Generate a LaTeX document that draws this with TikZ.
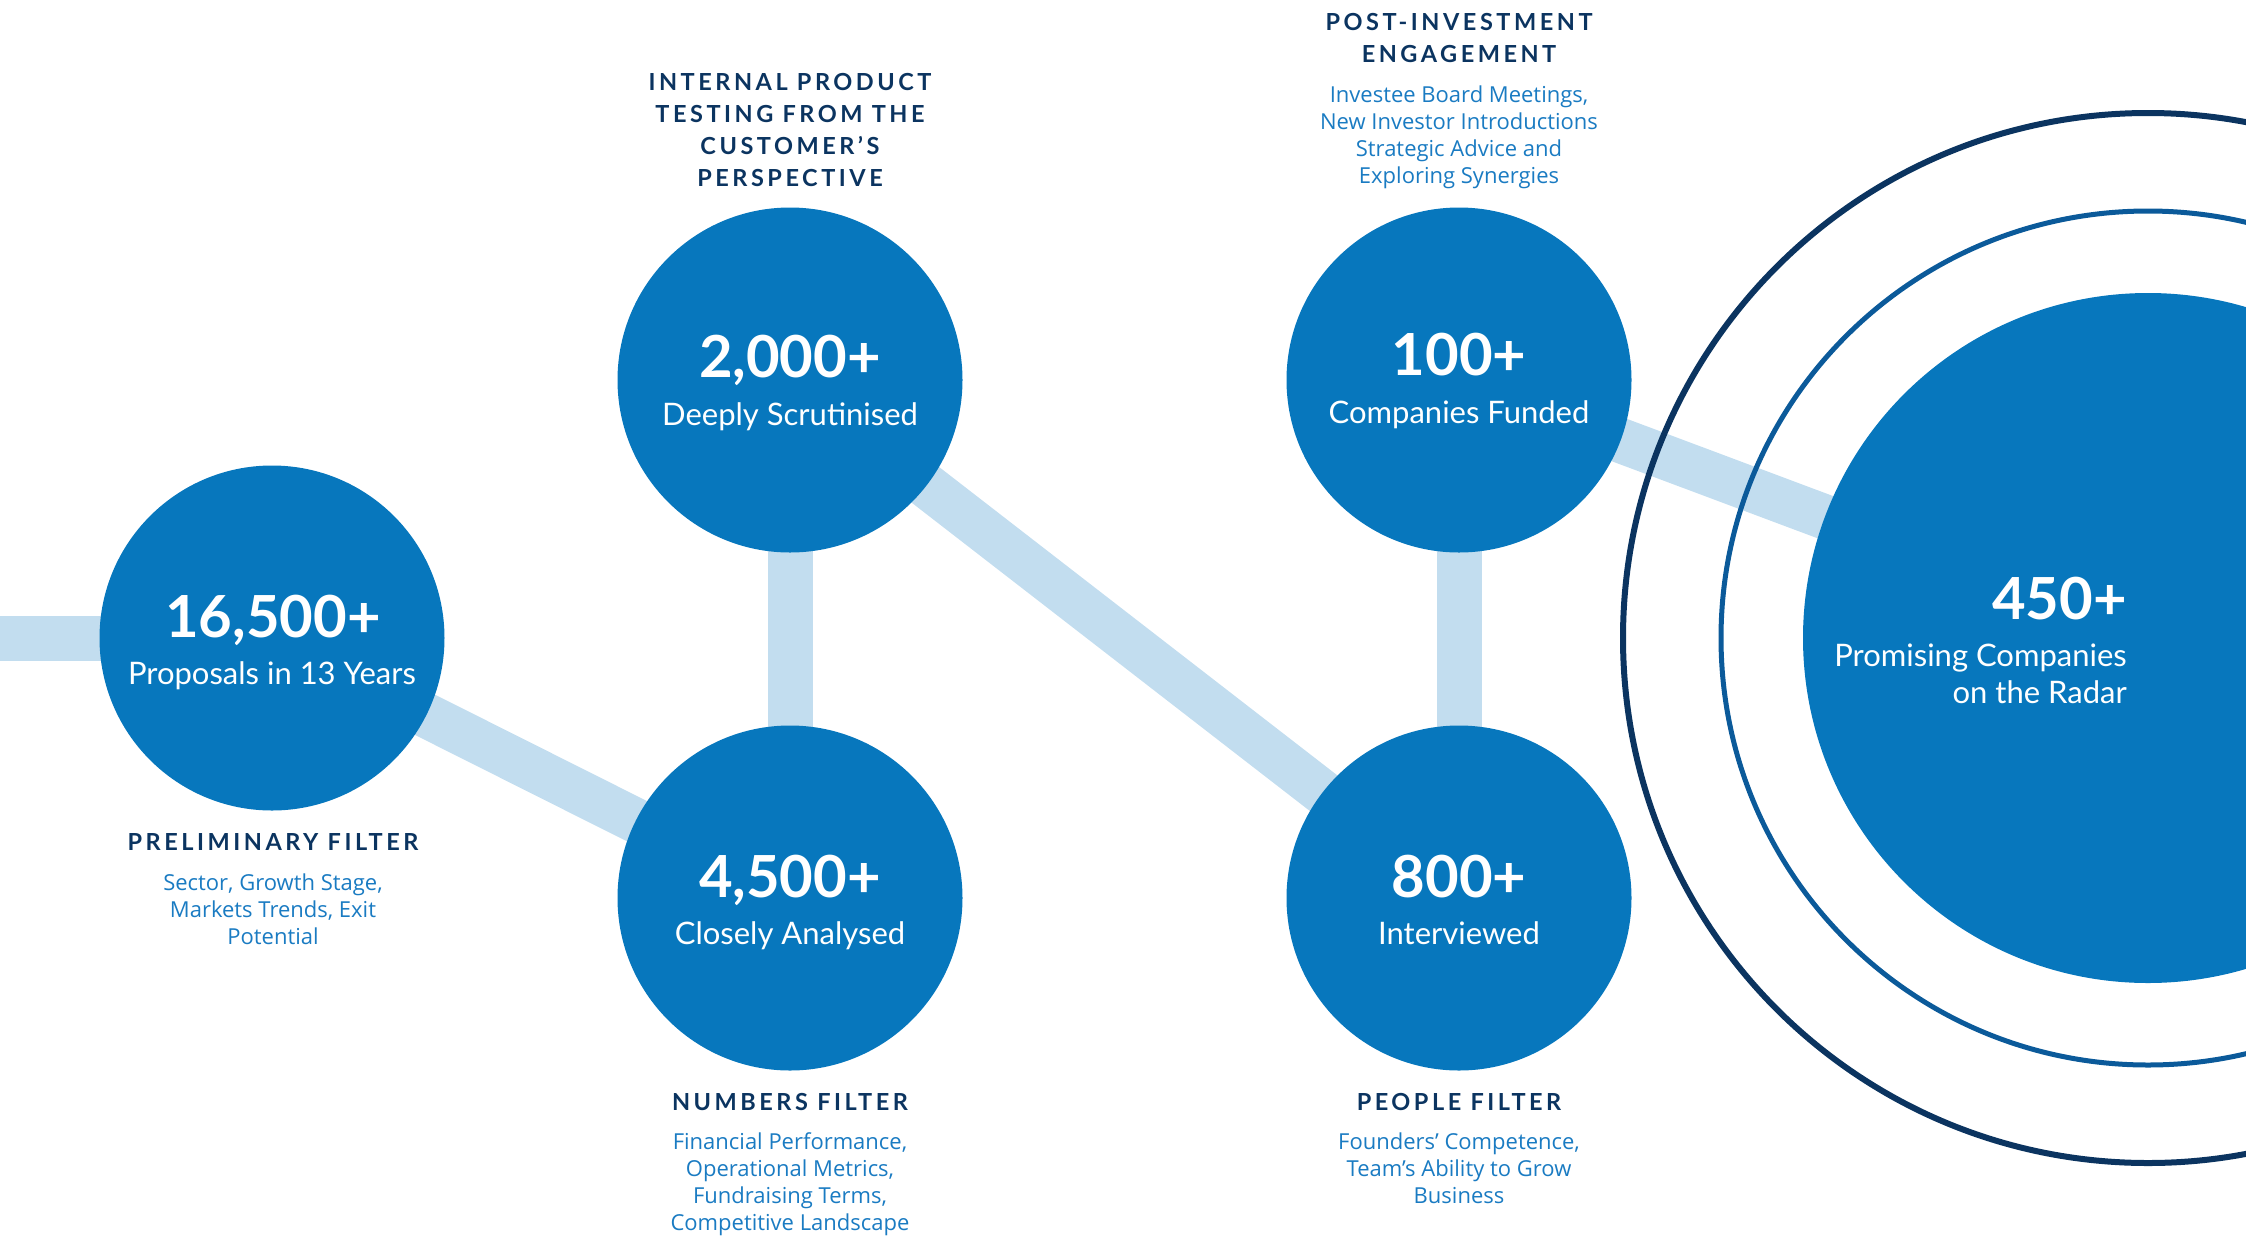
\documentclass[tikz,border=0pt]{standalone}
\usepackage{fontspec}
\setmainfont{Open Sans}
\newfontfamily\statfont{Lato}
\newfontfamily\capsfont[LetterSpace=15]{Lato}
\usetikzlibrary{backgrounds}

\definecolor{stageblue}{HTML}{0777BD}
\definecolor{linkblue}{HTML}{C2DDEF}
\definecolor{navy}{HTML}{0B3460}
\definecolor{ringblue}{HTML}{0B5A9A}
\definecolor{noteblue}{HTML}{1A7BC2}

\begin{document}
\begin{tikzpicture}[
    x = 1pt,
    y = -1pt,
    stage/.style = {circle, fill=stageblue, minimum size=345pt,
    inner sep=0pt, outer sep=0pt},
    link/.style = {linkblue, line width=45pt},
    count/.style = {white, anchor=base, inner sep=0pt,
    font=\statfont\bfseries\fontsize{58}{58}\selectfont},
    what/.style = {white, anchor=base, inner sep=0pt, align=center,
    font=\statfont\fontsize{31}{37}\selectfont},
    filter/.style = {navy, anchor=base, inner sep=0pt, align=center,
    font=\capsfont\bfseries\fontsize{23.5}{32}\selectfont},
    note/.style = {noteblue, anchor=base, inner sep=0pt, align=center,
    font=\fontsize{22}{27}\selectfont},
]

\clip (0,0) rectangle (2246,1235);

% the stages
\coordinate (in0) at (0,638);
\node[stage] (prop) at (272,638){};
\node[stage] (scrut) at (790,380){};
\node[stage] (anal) at (790,898){};
\node[stage] (fund) at (1459,380){};
\node[stage] (intv) at (1459,898){};
\node[stage, minimum size=690pt] (radar) at (2148,638){};

% radar rings
\draw [ringblue, line width=5pt] (radar.center) circle[radius=427pt];
\draw [navy, line width=6pt] (radar.center) circle[radius=525pt];

\begin{scope}[on background layer]
\draw [link] (in0) -- (prop.center);
\draw [link] (prop.center) -- (anal.center);
\draw [link] (anal.center) -- (scrut.center);
\draw [link] (scrut.center) -- (intv.center);
\draw [link] (intv.center) -- (fund.center);
\draw [link] (fund.center) -- (radar.center);
\end{scope}

% numbers in the circles
\node[count] (prop_n) at (273,637) {16,500+};
\node[what] (prop_t) at (272,684) {Proposals in 13 Years};
\node[count] (scrut_n) at (790,377) {2,000+};
\node[what] (scrut_t) at (790,425) {Deeply Scrutinised};
\node[count] (anal_n) at (790,897) {4,500+};
\node[what] (anal_t) at (790,944) {Closely Analysed};
\node[count] (fund_n) at (1459,375) {100+};
\node[what] (fund_t) at (1459,423) {Companies Funded};
\node[count] (intv_n) at (1459,897) {800+};
\node[what] (intv_t) at (1459,944) {Interviewed};
\node[count, anchor=base east] (radar_n) at (2127,619) {450+};
% multi-line nodes sit on the baseline of their last line
\node[what, anchor=base east, align=right] (radar_t) at (2127,703)
    {Promising Companies\\on the Radar};

% filters and their notes
\node[filter] (prop_f) at (273,850) {PRELIMINARY FILTER};
\node[note] (prop_d) at (273,944)
    {Sector, Growth Stage,\\Markets Trends, Exit\\Potential};
\node[filter] (scrut_f) at (790,186)
    {INTERNAL PRODUCT\\TESTING FROM THE\\CUSTOMER’S\\PERSPECTIVE};
\node[filter] (anal_f) at (790,1110) {NUMBERS FILTER};
\node[note] (anal_d) at (790,1230)
    {Financial Performance,\\Operational Metrics,\\Fundraising Terms,\\Competitive Landscape};
\node[filter] (fund_f) at (1459,62) {POST-INVESTMENT\\ENGAGEMENT};
\node[note] (fund_d) at (1459,183)
    {Investee Board Meetings,\\New Investor Introductions\\Strategic Advice and\\Exploring Synergies};
\node[filter] (intv_f) at (1459,1110) {PEOPLE FILTER};
\node[note] (intv_d) at (1459,1203)
    {Founders’ Competence,\\Team’s Ability to Grow\\Business};

\end{tikzpicture}
\end{document}
